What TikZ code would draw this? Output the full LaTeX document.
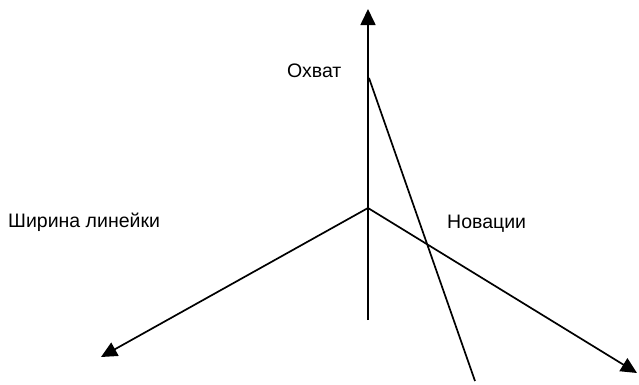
\documentclass[tikz,border=0pt]{standalone}
\usepackage{fontspec}
\setmainfont{Liberation Sans}
\usetikzlibrary{arrows.meta}
\tikzset{
  axis/.style={line width=1.7pt,-{Triangle[length=16pt,width=15pt]}},
  plainline/.style={line width=1.7pt},
  lbl/.style={anchor=base west,inner sep=0pt,font=\fontsize{19.5}{22}\selectfont}
}
\begin{document}
\begin{tikzpicture}[x=1pt,y=-1pt]
\useasboundingbox (0,0) rectangle (639,384);
\coordinate (O) at (368,208);
\coordinate (top) at (368,9);
\coordinate (bot) at (368,320);
\coordinate (lt) at (101,357);
\coordinate (rt) at (637,373);
\coordinate (d1) at (369,78);
\coordinate (d2) at (475,381);
\draw[axis] (bot) -- (top);
\draw[axis] (O) -- (lt);
\draw[axis] (O) -- (rt);
\draw[plainline] (d1) -- (d2);
\node[lbl] (ohvat) at (287,77) {Охват};
\node[lbl] (shir) at (8,227) {Ширина линейки};
\node[lbl] (nov) at (447,228) {Новации};
\end{tikzpicture}
\end{document}
